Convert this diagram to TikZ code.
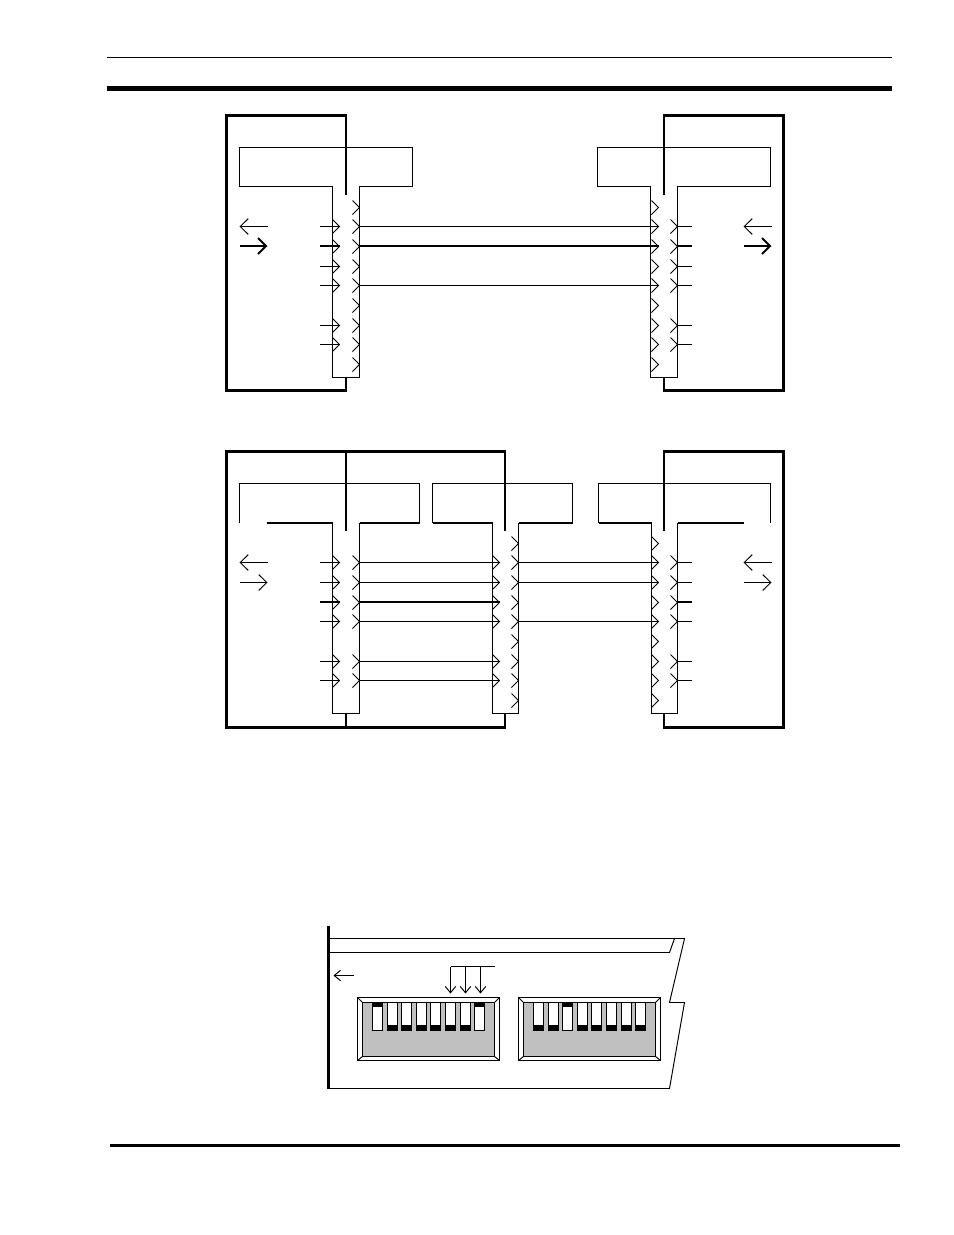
\documentclass[tikz,border=0pt]{standalone}
\usetikzlibrary{arrows.meta}
\tikzset{
  px/.style={x=0.02cm,y=-0.02cm},
  thinline/.style={line width=0.55pt},
  wallline/.style={line width=1.6pt},
  heavyline/.style={line width=1.13pt},
  signal/.style={-{Straight Barb[length=4.6pt,width=9pt]},line width=0.55pt},
  smallsignal/.style={-{Straight Barb[length=3.6pt,width=6pt]},line width=0.55pt},
  chevron/.pic={\draw[thinline] (-7,-7) -- (0,0) -- (-7,7);}
}
\definecolor{switchgray}{HTML}{C0C0C0}
\begin{document}
\begin{tikzpicture}[px]

  \useasboundingbox (0,0) rectangle (954,1235);

  % page rules
  \draw[thinline] (106.5,57.5) -- (891.5,57.5);
  \draw[line width=2.9pt] (106.5,88.5) -- (891.5,88.5);
  \draw[line width=2.2pt] (109.5,1145.5) -- (899.5,1145.5);

  \begin{scope}[shift={(0.5,0.5)}]

  % upper pair of units
  \draw[thinline] (332,377) -- (332,186) -- (239,186) -- (239,147) -- (412,147) -- (412,186) -- (359,186) -- (359,377) -- cycle;
  \draw[thinline] (650,377) -- (650,186) -- (597,186) -- (597,147) -- (770,147) -- (770,186) -- (677,186) -- (677,377) -- cycle;
  \draw[wallline] (345.5,194) -- (345.5,115) -- (226.2,115) -- (226.2,390) -- (345.5,390) -- (345.5,377);
  \draw[wallline] (663.5,194) -- (663.5,115) -- (782.8,115) -- (782.8,390) -- (663.5,390) -- (663.5,377);

  \foreach \y in {207,226,246,266,285,305,325,344,364} {
    \pic at (359,\y) {chevron};
    \pic at (658,\y) {chevron};
  }
  \foreach \y in {226,246,266,285,325,344} {
    \pic at (339,\y) {chevron};
    \pic at (677,\y) {chevron};
  }
  \foreach \y in {226,266,285,325,344} {
    \draw[thinline] (319,\y) -- (339,\y);
    \draw[thinline] (677,\y) -- (691,\y);
  }
  \draw[heavyline] (319,245.5) -- (339,245.5);
  \draw[heavyline] (677,245.5) -- (691,245.5);

  \foreach \n/\y in {a/226,c/285} {
    \coordinate (up\n L) at (359,\y);
    \coordinate (up\n R) at (658,\y);
    \draw[thinline] (up\n L) -- (up\n R);
  }
  \coordinate (upbL) at (359,245.5);
  \coordinate (upbR) at (658,245.5);
  \draw[heavyline] (upbL) -- (upbR);

  \draw[signal] (267,226) -- (239,226);
  \draw[signal,heavyline] (239,245.5) -- (267,245.5);
  \draw[signal] (771,226) -- (743,226);
  \draw[signal,heavyline] (743,245.5) -- (771,245.5);

  % lower row of three units
  \draw[thinline] (239,522) -- (239,483) -- (419,483) -- (419,522);
  \draw[thinline] (332,522) -- (332,713) -- (359,713) -- (359,522);
  \draw[thinline] (432,522) -- (432,483) -- (572,483) -- (572,522);
  \draw[thinline] (492,522) -- (492,713) -- (518,713) -- (518,522);
  \draw[thinline] (598,522) -- (598,483) -- (770,483) -- (770,522);
  \draw[thinline] (651,522) -- (651,713) -- (677,713) -- (677,522);

  \foreach \a/\b in {266/332,359/419,432/492,518/572,598/651,677/743} {
    \draw[heavyline] (\a,522) -- (\b,522);
  }

  \draw[wallline] (345.5,530) -- (345.5,451) -- (226.2,451) -- (226.2,727) -- (345.5,727) -- (345.5,713);
  \draw[wallline] (345.5,451) -- (504.5,451) -- (504.5,530);
  \draw[wallline] (345.5,727) -- (504.5,727) -- (504.5,713);
  \draw[wallline] (663.5,530) -- (663.5,451) -- (782.8,451) -- (782.8,727) -- (663.5,727) -- (663.5,713);

  \foreach \y in {543,562,582,602,621,641,661,680,700} {
    \pic at (518,\y) {chevron};
    \pic at (658,\y) {chevron};
  }
  \foreach \y in {562,582,602,621,661,680} {
    \pic at (339,\y) {chevron};
    \pic at (359,\y) {chevron};
    \pic at (499,\y) {chevron};
    \pic at (677,\y) {chevron};
  }
  \foreach \y in {562,582,621,661,680} {
    \draw[thinline] (319,\y) -- (339,\y);
    \draw[thinline] (677,\y) -- (691,\y);
  }
  \draw[heavyline] (319,601.5) -- (339,601.5);
  \draw[heavyline] (677,601.5) -- (691,601.5);

  \foreach \n/\y in {a/562,b/582,d/621,e/661,f/680} {
    \coordinate (lo\n L) at (359,\y);
    \coordinate (lo\n M) at (499,\y);
    \draw[thinline] (lo\n L) -- (lo\n M);
  }
  \coordinate (locL) at (359,601.5);
  \coordinate (locM) at (499,601.5);
  \draw[heavyline] (locL) -- (locM);

  \foreach \n/\y in {a/562,b/582,d/621} {
    \coordinate (lo\n N) at (518,\y);
    \coordinate (lo\n R) at (658,\y);
    \draw[thinline] (lo\n N) -- (lo\n R);
  }

  \draw[signal] (267,562) -- (239,562);
  \draw[signal] (239,582) -- (267,582);
  \draw[signal] (771,562) -- (743,562);
  \draw[signal] (743,582) -- (771,582);

  % board with the two switch blocks
  \draw[thinline] (328,938) -- (684,938) -- (669,1002) -- (684,1002) -- (669,1088) -- (328,1088);
  \draw[thinline] (328,952) -- (669,952) -- (674,938);
  \draw[wallline] (327.8,925) -- (327.8,1088);
  \draw[smallsignal] (353,975) -- (333,975);

  \draw[thinline] (494,966) -- (450,966);
  \foreach \x in {450,465,480} {
    \draw[smallsignal] (\x,966) -- (\x,993);
  }

  \foreach \x/\w/\up in {357/142/{0,7},518/142/{2}} {
    \draw[thinline,fill=white] (\x,997) rectangle ++(\w,63);
    \draw[thinline,fill=switchgray] (\x+5,1002) rectangle ++(\w-10,54);
    \draw[thinline] (\x,997) -- ++(5,5) (\x+\w,997) -- ++(-5,5);
    \draw[thinline] (\x,1060) -- ++(5,-4) (\x+\w,1060) -- ++(-5,-4);
    \foreach \i in {0,...,7} {
      \draw[thinline,fill=white] (\x+15+14.6*\i,1002) rectangle ++(10,27.5);
      \fill (\x+15+14.6*\i,1024) rectangle ++(10,5.5);
    }
    \foreach \i in \up {
      \draw[thinline,fill=white] (\x+15+14.6*\i,1002) rectangle ++(10,27.5);
      \fill (\x+15+14.6*\i,1002) rectangle ++(10,4.5);
    }
  }

  \end{scope}

\end{tikzpicture}
\end{document}
